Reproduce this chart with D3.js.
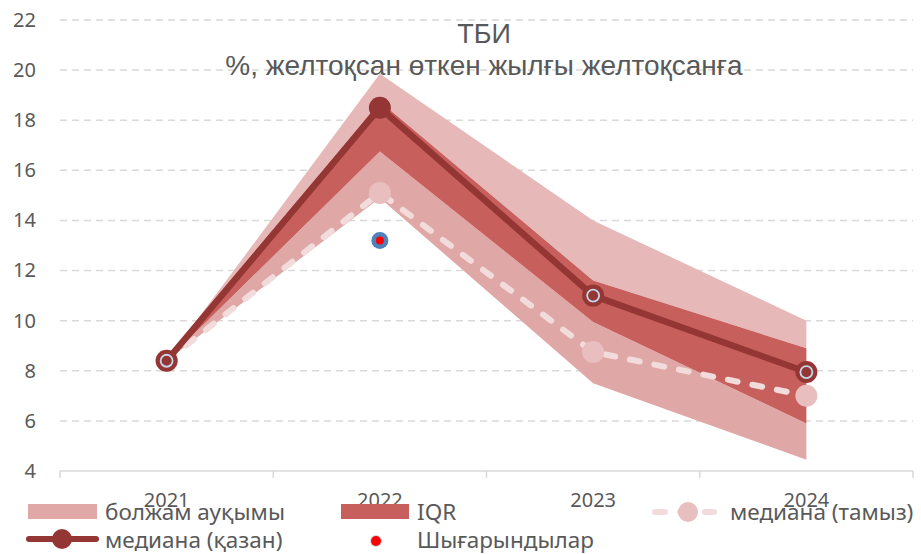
<!DOCTYPE html>
<html>
<head>
<meta charset="utf-8">
<script src="https://cdn.jsdelivr.net/npm/d3@7"></script>
<style>
  body { margin: 0; background: #fff; }
  svg { display: block; }
  text { fill: #595959; }
</style>
</head>
<body>
<svg width="921" height="554"></svg>
<script>
// data
var years = ["2021", "2022", "2023", "2024"];
var rangeLow  = [8.4, 14.9, 7.5, 4.45];
var iqrLow    = [8.4, 16.75, 9.95, 5.9];
var iqrHigh   = [8.4, 18.75, 11.6, 8.9];
var rangeHigh = [8.4, 19.85, 14.0, 10.0];
var medianOct = [8.4, 18.5, 11.0, 7.95];
var medianAug = [8.4, 15.1, 8.75, 7.0];
var ringMark  = [8.4, null, 11.0, 7.95];
var outlierYears = ["2022"];
var outlierValues = [13.2];
var yTicks = [4, 6, 8, 10, 12, 14, 16, 18, 20, 22];

var svg = d3.select("svg");
var pLeft = 60, pRight = 913, pTop = 20, pBottom = 471;

var x = d3.scaleBand().domain(years).range([pLeft, pRight]).paddingInner(0).paddingOuter(0);
var y = d3.scaleLinear().domain([4, 22]).range([pBottom, pTop]);
function cx(i) { return x(years[i]) + x.bandwidth() / 2; }

var rows = years.map(function(d, i) {
  return { i: i, rl: rangeLow[i], il: iqrLow[i], ih: iqrHigh[i], rh: rangeHigh[i],
           oct: medianOct[i], aug: medianAug[i], ring: ringMark[i] };
});

//grid
svg.append("g")
  .selectAll("line")
  .data(yTicks.filter(function(t){ return t > 4; }))
  .enter().append("line")
    .attr("x1", pLeft).attr("x2", pRight)
    .attr("y1", function(d){ return y(d); }).attr("y2", function(d){ return y(d); })
    .attr("stroke", "#d9d9d9").attr("stroke-width", 1.5)
    .attr("stroke-dasharray", "7,5");

// y labels
var yAxis = svg.append("g")
  .attr("transform", "translate(" + (pLeft - 10) + ",0)")
  .call(d3.axisLeft(y).tickValues(yTicks).tickSize(0).tickPadding(14).tickFormat(d3.format("d")));
yAxis.select(".domain").remove();
yAxis.selectAll("text")
  .attr("font-family", "Noto Sans").attr("font-size", 20).attr("fill", "#595959");

// x axis
svg.append("line")
  .attr("x1", pLeft).attr("x2", pRight).attr("y1", pBottom).attr("y2", pBottom)
  .attr("stroke", "#d9d9d9").attr("stroke-width", 1.5);
svg.append("g").selectAll("line")
  .data(years.concat([null]))
  .enter().append("line")
    .attr("x1", function(d, i){ return pLeft + i * x.bandwidth(); })
    .attr("x2", function(d, i){ return pLeft + i * x.bandwidth(); })
    .attr("y1", pBottom).attr("y2", pBottom + 7)
    .attr("stroke", "#d9d9d9").attr("stroke-width", 1.5);
var xAxis = svg.append("g")
  .attr("transform", "translate(0," + pBottom + ")")
  .call(d3.axisBottom(x).tickSize(0).tickPadding(22));
xAxis.select(".domain").remove();
xAxis.selectAll("text")
  .attr("font-family", "Noto Sans").attr("font-size", 20).attr("fill", "#595959");

// bands
var areaX = function(d){ return cx(d.i); };
svg.append("path").datum(rows)
  .attr("fill", "#e6b9b8")
  .attr("d", d3.area().x(areaX).y0(function(d){ return y(d.ih); }).y1(function(d){ return y(d.rh); }));
svg.append("path").datum(rows)
  .attr("fill", "#dfa7a6")
  .attr("d", d3.area().x(areaX).y0(function(d){ return y(d.rl); }).y1(function(d){ return y(d.il); }));
svg.append("path").datum(rows)
  .attr("fill", "#c75f5c")
  .attr("d", d3.area().x(areaX).y0(function(d){ return y(d.il); }).y1(function(d){ return y(d.ih); }));

// median (aug)
svg.append("path").datum(rows)
  .attr("fill", "none").attr("stroke", "#f2dcdb").attr("stroke-width", 6)
  .attr("stroke-linecap", "round").attr("stroke-dasharray", "10,15")
  .attr("d", d3.line().x(areaX).y(function(d){ return y(d.aug); }));
svg.append("g").selectAll("circle")
  .data(rows)
  .enter().append("circle")
    .attr("cx", areaX).attr("cy", function(d){ return y(d.aug); })
    .attr("r", 11).attr("fill", "#e9bebe");

// median (oct)
svg.append("path").datum(rows)
  .attr("fill", "none").attr("stroke", "#943634").attr("stroke-width", 6.5)
  .attr("stroke-linejoin", "round")
  .attr("d", d3.line().x(areaX).y(function(d){ return y(d.oct); }));
svg.append("g").selectAll("circle")
  .data(rows)
  .enter().append("circle")
    .attr("cx", areaX).attr("cy", function(d){ return y(d.oct); })
    .attr("r", 11).attr("fill", "#943634");
svg.append("g").selectAll("circle")
  .data(rows.filter(function(d){ return d.ring != null; }))
  .enter().append("circle")
    .attr("cx", areaX).attr("cy", function(d){ return y(d.ring); })
    .attr("r", 6).attr("fill", "none").attr("stroke", "#c6d6ec").attr("stroke-width", 1.8);

// outliers
var out = svg.append("g").selectAll("g")
  .data(outlierYears.map(function(d, i){ return { year: d, v: outlierValues[i] }; }))
  .enter().append("g")
    .attr("transform", function(d){ return "translate(" + (x(d.year) + x.bandwidth() / 2) + "," + y(d.v) + ")"; });
out.append("circle").attr("r", 8.5).attr("fill", "#4f81bd");
out.append("circle").attr("r", 4).attr("fill", "#ff0000");

// title
svg.append("text").attr("x", 484).attr("y", 43).attr("text-anchor", "middle")
  .attr("font-family", "Liberation Sans").attr("font-size", 27).text("ТБИ");
svg.append("text").attr("x", 484).attr("y", 75).attr("text-anchor", "middle")
  .attr("font-family", "Liberation Sans").attr("font-size", 28)
  .text("%, желтоқсан өткен жылғы желтоқсанға");

// legend
var lg = svg.append("g").attr("font-family", "Noto Sans").attr("font-size", 22.5);
lg.append("rect").attr("x", 28).attr("y", 504).attr("width", 69).attr("height", 15).attr("fill", "#e0a8a7");
lg.append("text").attr("x", 105).attr("y", 520).text("болжам ауқымы");
lg.append("rect").attr("x", 341).attr("y", 504).attr("width", 68).attr("height", 15).attr("fill", "#c75f5c");
lg.append("text").attr("x", 417).attr("y", 520).text("IQR");
lg.append("line").attr("x1", 655).attr("x2", 714).attr("y1", 512).attr("y2", 512)
  .attr("stroke", "#f2dcdb").attr("stroke-width", 6).attr("stroke-linecap", "round").attr("stroke-dasharray", "10,15");
lg.append("circle").attr("cx", 688).attr("cy", 512).attr("r", 10).attr("fill", "#e9bebe");
lg.append("text").attr("x", 730).attr("y", 520).text("медиана (тамыз)");
lg.append("line").attr("x1", 29).attr("x2", 96).attr("y1", 539).attr("y2", 539)
  .attr("stroke", "#943634").attr("stroke-width", 6).attr("stroke-linecap", "round");
lg.append("circle").attr("cx", 62).attr("cy", 539).attr("r", 10).attr("fill", "#943634");
lg.append("text").attr("x", 105).attr("y", 548).text("медиана (қазан)");
lg.append("circle").attr("cx", 376).attr("cy", 541).attr("r", 6).attr("fill", "#c6d6ec");
lg.append("circle").attr("cx", 376).attr("cy", 541).attr("r", 5).attr("fill", "#ff0000");
lg.append("text").attr("x", 417).attr("y", 548).text("Шығарындылар");
</script>
</body>
</html>
